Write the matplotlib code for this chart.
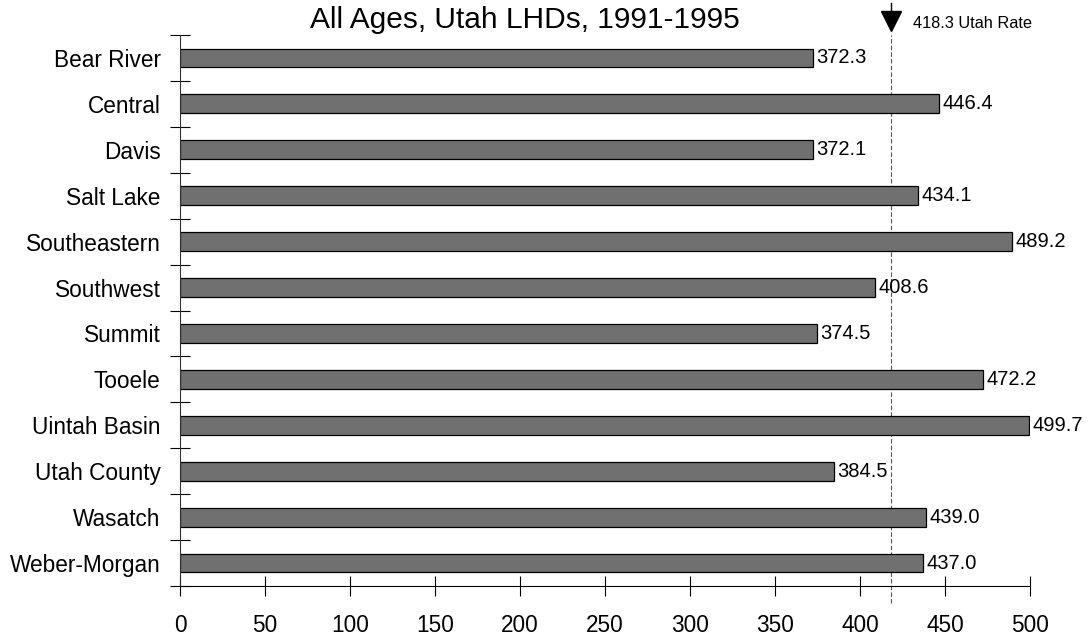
import matplotlib
matplotlib.use("Agg")
import matplotlib.pyplot as plt
import matplotlib.transforms as mtransforms
import numpy as np

plt.rcParams['font.family'] = ['Liberation Sans', 'DejaVu Sans']

categories = ["Bear River", "Central", "Davis", "Salt Lake", "Southeastern", "Southwest",
              "Summit", "Tooele", "Uintah Basin", "Utah County", "Wasatch", "Weber-Morgan"]
values = [372.3, 446.4, 372.1, 434.1, 489.2, 408.6, 374.5, 472.2, 499.7, 384.5, 439.0, 437.0]
utah_rate = 418.3
title = "All Ages, Utah LHDs, 1991-1995"
xticks = [0, 50, 100, 150, 200, 250, 300, 350, 400, 450, 500]

fig = plt.figure(figsize=(10.88, 6.36), dpi=100)
ax = fig.add_axes([180/1088, 1-586/636, 850/1088, 551/636])

n = len(categories)
y = np.arange(n)
ax.barh(y, values, height=0.41, color="#707070", edgecolor="black", linewidth=0.9, zorder=2)
for yi, v in zip(y, values):
    ax.text(v + 2.0, yi, f"{v:.1f}", va="center", ha="left", fontsize=14.5, zorder=3)

ax.set_ylim(n - 0.5, -0.5)
ax.set_xlim(0, 500)
ax.set_yticks(y)
ax.set_yticklabels(categories, fontsize=16.3)
ax.tick_params(axis="y", which="major", length=0, pad=14)
ax.set_yticks(np.arange(-0.5, n, 1.0), minor=True)
ax.tick_params(axis="y", which="minor", length=14, direction="inout", width=0.8)
ax.set_xticks(xticks)
ax.set_xticklabels([str(t) for t in xticks], fontsize=16.3)
ax.tick_params(axis="x", which="major", length=14, direction="inout", width=0.8, pad=13)

for s in ["top", "right"]:
    ax.spines[s].set_visible(False)
ax.spines["left"].set_linewidth(0.8)
ax.spines["bottom"].set_linewidth(0.8)
ax.spines["left"].set_color("#333333")

trans = mtransforms.blended_transform_factory(ax.transData, ax.transAxes)
ax.plot([utah_rate, utah_rate], [-0.03, 1.0], transform=trans, color="#555555",
        linestyle=(0, (4, 2)), linewidth=0.8, clip_on=False, zorder=1)
ax.plot([utah_rate], [1.025], transform=trans, marker="v", markersize=15, color="black",
        clip_on=False, linestyle="none")
ax.plot([utah_rate, utah_rate], [1.03, 1.058], transform=trans, color="black",
        linewidth=1.0, clip_on=False)
ax.text(utah_rate + 13, 1.02, f"{utah_rate} Utah Rate", transform=trans, fontsize=11.8,
        va="center", ha="left")

fig.text(525/1088, 1-20/636, title, fontsize=21.5, ha="center", va="center")

fig.savefig("out.png", dpi=100)
